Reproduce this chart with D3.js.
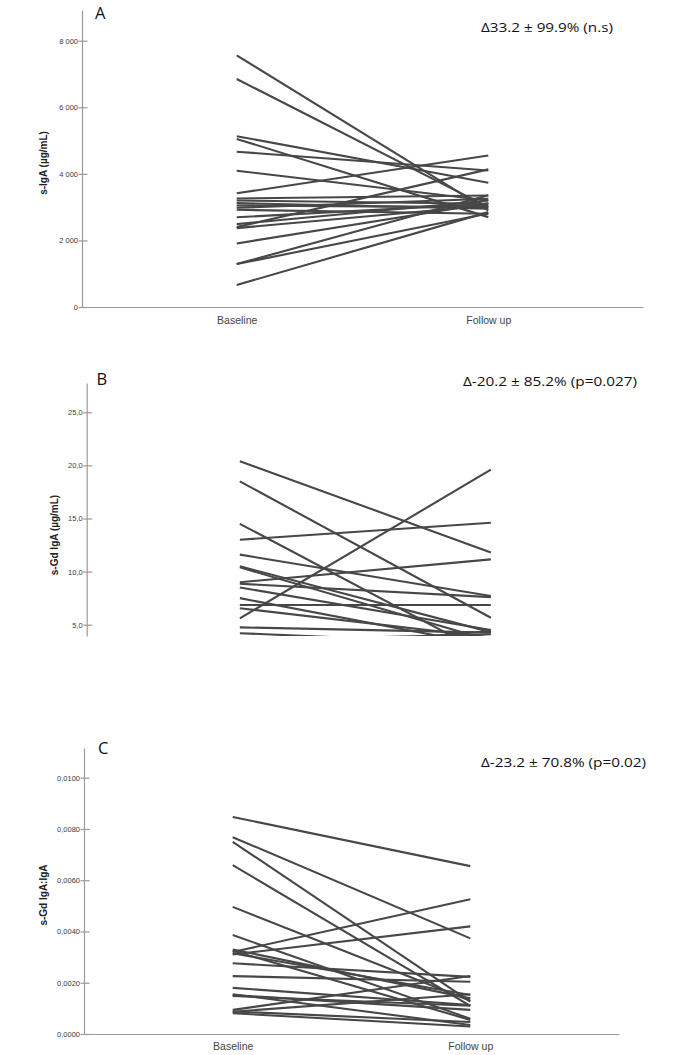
<!DOCTYPE html>
<html>
<head>
<meta charset="utf-8">
<script src="https://cdn.jsdelivr.net/npm/d3@7"></script>
<style>
  html, body { margin: 0; padding: 0; background: #fff; }
  svg { display: block; }
</style>
</head>
<body>
<svg id="chart" width="685" height="1055"></svg>
<script>
// ---------------- DATA ----------------
const categories = ["Baseline", "Follow up"];

// Panel A: s-IgA (µg/mL)
const igaBaseline = [7560, 6850, 5130, 5050, 4665, 4095, 3415, 3260, 3200, 3120, 3050, 2980, 2920, 2695, 2490, 2400, 2370, 1910, 1290, 1290, 660];
const igaFollowup = [2900, 3000, 3735, 2700, 4100, 3200, 4550, 3350, 3100, 2950, 3000, 3250, 2800, 3100, 3200, 4135, 3050, 3115, 3355, 2810, 2850];
const igaTicks = [0, 2000, 4000, 6000, 8000];

// Panel B: s-Gd IgA (µg/mL)
const gdBaseline = [20.4, 18.5, 14.5, 13.0, 11.6, 10.5, 10.4, 9.0, 8.85, 8.5, 7.5, 6.85, 6.55, 5.6, 4.75, 4.2, 3.5, 3.0, 2.5, 2.0, 1.5];
const gdFollowup = [11.8, 5.65, 2.0, 14.6, 7.7, 4.3, 3.5, 11.15, 7.6, 4.5, 3.0, 6.85, 3.8, 19.6, 4.25, 3.2, 4.1, 2.5, 4.4, 1.5, 2.2];
const gdTicks = [5, 10, 15, 20, 25];

// Panel C: s-Gd IgA:IgA
const ratioBaseline = [0.00847, 0.00768, 0.0075, 0.00659, 0.00496, 0.00386, 0.0033, 0.0032, 0.0031, 0.00315, 0.00276, 0.00226, 0.0018, 0.00152, 0.00148, 0.00094, 0.00087, 0.00081, 0.00088, 0.00325, 0.00155];
const ratioFollowup = [0.00655, 0.00373, 0.00126, 0.0011, 0.0013, 0.0006, 0.00139, 0.00526, 0.0042, 0.00152, 0.00223, 0.00204, 0.00113, 0.00094, 0.0011, 0.00226, 0.00155, 0.00029, 0.00047, 0.00055, 0.00035];
const ratioTicks = [0, 0.002, 0.004, 0.006, 0.008, 0.01];

const panelLetters = ["A", "B", "C"];
const yTitles = ["s-IgA (µg/mL)", "s-Gd IgA (µg/mL)", "s-Gd IgA:IgA"];
const annotations = ["Δ33.2 ± 99.9% (n.s)", "Δ-20.2 ± 85.2% (p=0.027)", "Δ-23.2 ± 70.8% (p=0.02)"];

// ---------------- LAYOUT ----------------
const fmtSpace = v => d3.format(",")(v).replace(/,/g, " ");
const fmtComma1 = v => d3.format(".1f")(v).replace(".", ",");
const fmtComma4 = v => d3.format(".4f")(v).replace(".", ",");

const panels = [
  { base: igaBaseline, fol: igaFollowup, ticks: igaTicks, fmt: fmtSpace,
    axisX: 82, xRight: 643, axisTop: 10, axisBottom: 307,
    refLo: [0, 307], refHi: [8000, 40.7], pad: 0.615, xAxis: true, labelY: 324,
    titleX: 44, titleY: 163,
    letterX: 95, letterY: 18.5, annX: 481, annY: 32, annW: 132 },
  { base: gdBaseline, fol: gdFollowup, ticks: gdTicks, fmt: fmtComma1,
    axisX: 86.7, xRight: 644, axisTop: 383, axisBottom: 636,
    refLo: [5, 624.7], refHi: [25, 412.3], pad: 0.61, xAxis: false,
    titleX: 55, titleY: 535,
    letterX: 96.5, letterY: 385, annX: 463, annY: 386, annW: 174 },
  { base: ratioBaseline, fol: ratioFollowup, ticks: ratioTicks, fmt: fmtComma4,
    axisX: 84, xRight: 619, axisTop: 748, axisBottom: 1034,
    refLo: [0, 1034], refHi: [0.01, 777.7], pad: 0.626, xAxis: true, labelY: 1050,
    titleX: 44, titleY: 895,
    letterX: 98, letterY: 753.5, annX: 481, annY: 767, annW: 165 }
];

const svg = d3.select("#chart");
const axisColor = "#9a9a9a";
const lineColor = "#474747";

panels.forEach((p, i) => {
  const g = svg.append("g");

  const y0 = d3.scaleLinear().domain([p.refLo[0], p.refHi[0]]).range([p.refLo[1], p.refHi[1]]);
  const y = d3.scaleLinear()
    .domain([y0.invert(p.axisBottom), y0.invert(p.axisTop)])
    .range([p.axisBottom, p.axisTop]);

  const x = d3.scalePoint().domain(categories).range([p.axisX, p.xRight]).padding(p.pad);

  // clip
  const clipId = "clip" + i;
  svg.append("clipPath").attr("id", clipId)
    .append("rect")
    .attr("x", p.axisX).attr("y", p.axisTop - 5)
    .attr("width", p.xRight - p.axisX + 10)
    .attr("height", p.axisBottom - p.axisTop + 5);

  // y-axis
  const yAxis = d3.axisLeft(y).tickValues(p.ticks).tickFormat(p.fmt)
    .tickSizeInner(3.5).tickSizeOuter(0).tickPadding(0.5);
  const ya = g.append("g").attr("transform", `translate(${p.axisX},0)`).call(yAxis);
  ya.select(".domain").attr("stroke", axisColor).attr("stroke-width", 1.2);
  ya.selectAll(".tick line").attr("stroke", axisColor).attr("stroke-width", 1.2).attr("x1", 5.5);
  ya.selectAll(".tick text")
    .attr("font-family", "Liberation Sans, Arial, sans-serif")
    .attr("font-size", 7.5).attr("fill", "#3a3a3a");

  // x-axis
  if (p.xAxis) {
    const xAxis = d3.axisBottom(x).tickSize(0).tickSizeOuter(0).tickPadding(0);
    const xa = g.append("g").attr("transform", `translate(0,${p.axisBottom})`).call(xAxis);
    xa.select(".domain").attr("stroke", axisColor).attr("stroke-width", 1.2);
    xa.selectAll(".tick text")
      .attr("y", p.labelY - p.axisBottom).attr("dy", 0)
      .attr("font-family", "Liberation Sans, Arial, sans-serif")
      .attr("font-size", 10.5).attr("fill", "#444");
  }

  // lines
  const pairs = p.base.map((b, k) => [b, p.fol[k]]);
  const line = d3.line().x((v, j) => x(categories[j])).y(v => y(v));
  g.append("g").attr("clip-path", `url(#${clipId})`)
    .selectAll("path").data(pairs).join("path")
    .attr("d", d => line(d))
    .attr("fill", "none").attr("stroke", lineColor).attr("stroke-width", 2.1);

  // y title
  g.append("text")
    .attr("transform", `translate(${p.titleX},${p.titleY}) rotate(-90)`)
    .attr("text-anchor", "middle").attr("dominant-baseline", "middle")
    .attr("font-family", "Liberation Sans, Arial, sans-serif")
    .attr("font-weight", "bold").attr("font-size", 10).attr("fill", "#222")
    .text(yTitles[i]);

  // panel letter
  g.append("text")
    .attr("x", p.letterX).attr("y", p.letterY)
    .attr("font-family", "Open Sans, sans-serif").attr("font-size", 16.5).attr("fill", "#111")
    .text(panelLetters[i]);

  // annotation
  g.append("text")
    .attr("x", p.annX).attr("y", p.annY)
    .attr("font-family", "Open Sans, sans-serif").attr("font-size", 13.5).attr("fill", "#111")
    .attr("textLength", p.annW).attr("lengthAdjust", "spacingAndGlyphs")
    .text(annotations[i]);
});
</script>
</body>
</html>
